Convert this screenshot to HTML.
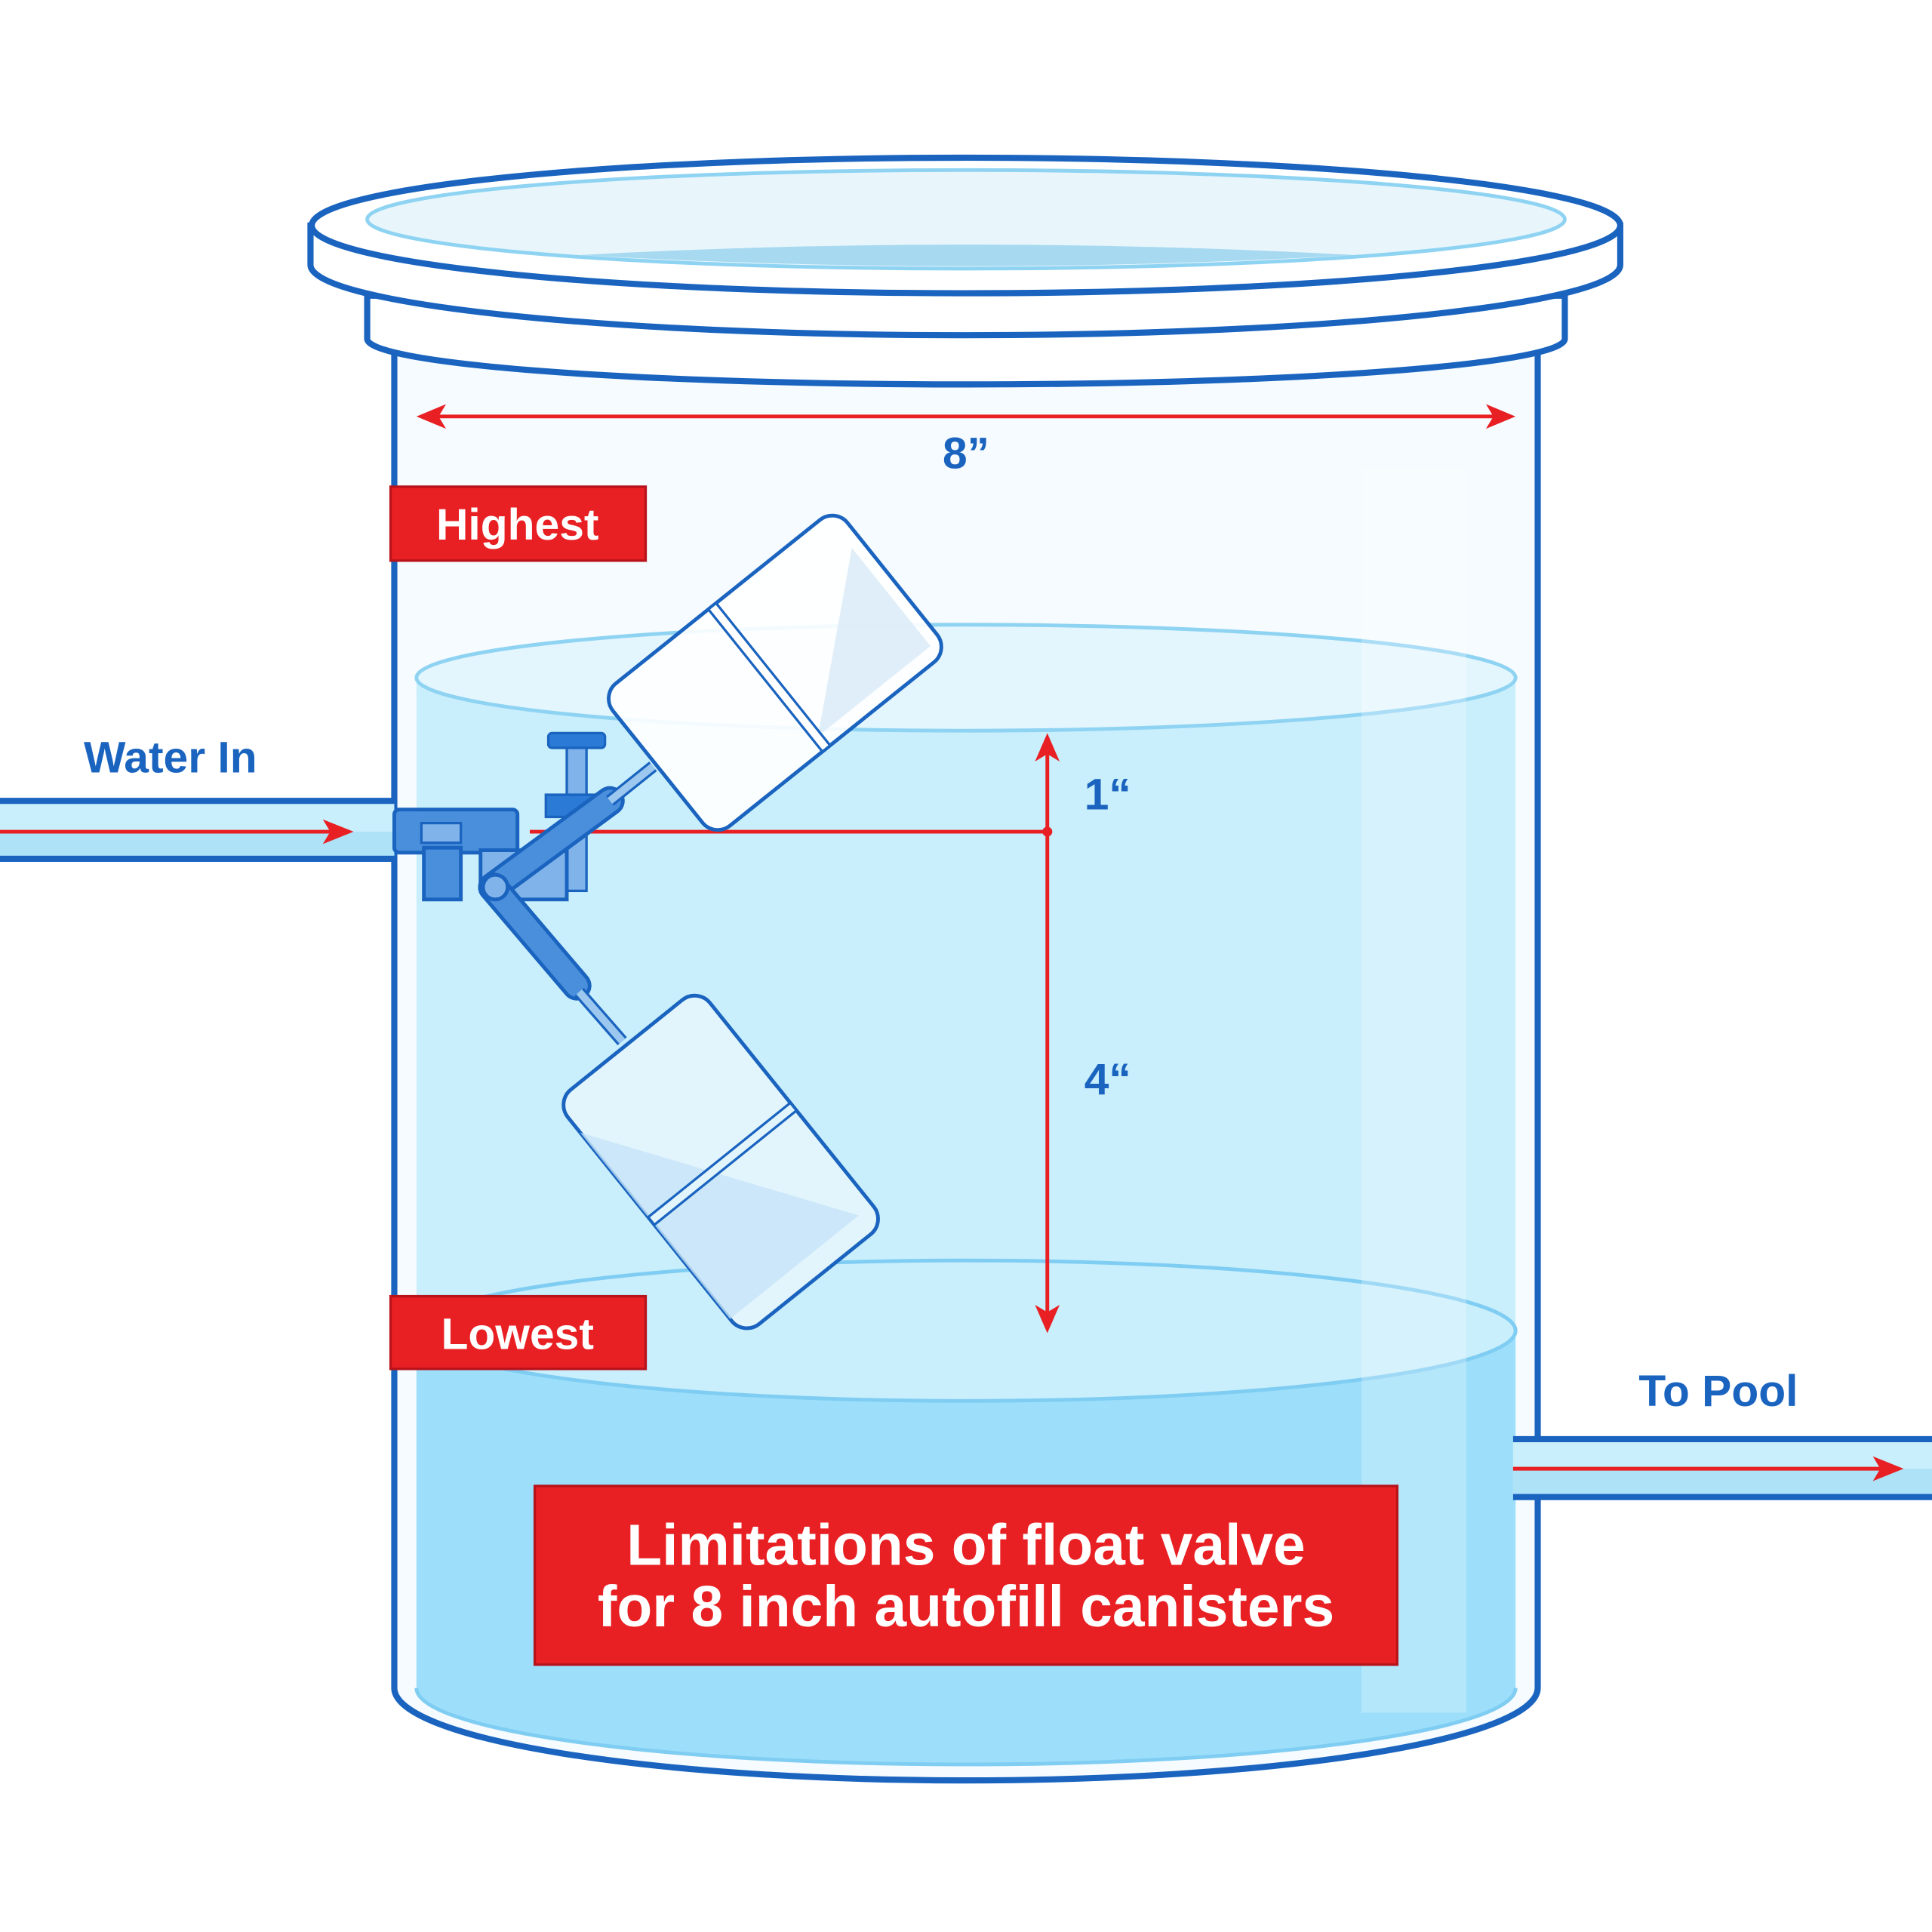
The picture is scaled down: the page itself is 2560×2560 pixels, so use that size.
<!DOCTYPE html>
<html><head><meta charset="utf-8"><style>
html,body{margin:0;padding:0;background:#fff}
svg{display:block}
text{font-family:"Liberation Sans",sans-serif;font-weight:bold}
</style></head><body>
<svg width="2560" height="2560" viewBox="0 0 1568 1568" xmlns="http://www.w3.org/2000/svg">
<rect width="1568" height="1568" fill="#fff"/>
<!-- body -->
<path d="M320,285 L320,1370 A464,75 0 0 0 1248,1370 L1248,285 Z" fill="#f5fbfe" stroke="#1a64bf" stroke-width="5"/>
<path d="M338,550 L338,1370 A446,62 0 0 0 1230,1370 L1230,550 Z" fill="#c9eefc"/>
<path d="M338,1080 L338,1370 A446,62 0 0 0 1230,1370 L1230,1080 Z" fill="#9ddffa"/>
<ellipse cx="784" cy="1080" rx="446" ry="57" fill="#c9eefc" stroke="#7fcdf2" stroke-width="3"/>
<path d="M338,1370 A446,62 0 0 0 1230,1370" fill="none" stroke="#7fcdf2" stroke-width="3"/>
<ellipse cx="784" cy="550" rx="446" ry="43" fill="#e4f6fd" stroke="#8fd3f3" stroke-width="3"/>
<rect x="1105" y="380" width="85" height="1010" fill="#ffffff" opacity="0.25"/>
<!-- collar -->
<path d="M298,240 L298,275 A486,37 0 0 0 1270,275 L1270,240 Z" fill="#fff" stroke="#1a64bf" stroke-width="5"/>
<!-- lid -->
<path d="M252,183 L252,215 A531,57 0 0 0 1315,215 L1315,183 Z" fill="#fff" stroke="#1a64bf" stroke-width="5"/>
<ellipse cx="784" cy="183" rx="531" ry="55" fill="#fff" stroke="#1a64bf" stroke-width="5"/>
<ellipse cx="784" cy="178" rx="486" ry="40" fill="#e8f6fc" stroke="#8fd3f3" stroke-width="3"/>
<path d="M470,207 Q784,190 1100,207 Q784,225 470,207 Z" fill="#a7d9f0"/>
<!-- 8 inch dimension -->
<line x1="345" y1="338" x2="1222" y2="338" stroke="#e82023" stroke-width="3"/>
<path d="M338,338 L362,328 L356,338 L362,348 Z" fill="#e82023"/>
<path d="M1230,338 L1206,328 L1212,338 L1206,348 Z" fill="#e82023"/>
<text x="784" y="380" font-size="36" fill="#1a64bf" text-anchor="middle">8”</text>
<!-- pipes -->
<rect x="0" y="650" width="320" height="47" fill="#c9eefc"/>
<rect x="0" y="675" width="320" height="22" fill="#ade2f7"/>
<line x1="0" y1="650" x2="320" y2="650" stroke="#1a64bf" stroke-width="5"/>
<line x1="0" y1="697" x2="320" y2="697" stroke="#1a64bf" stroke-width="5"/>
<line x1="0" y1="675" x2="280" y2="675" stroke="#e82023" stroke-width="3"/>
<path d="M287,675 L262,665 L268,675 L262,685 Z" fill="#e82023"/>
<text x="68" y="627" font-size="36" fill="#1a64bf">Water In</text>
<rect x="1228" y="1168" width="340" height="47" fill="#c9eefc"/>
<rect x="1228" y="1192" width="340" height="23" fill="#ade2f7"/>
<line x1="1228" y1="1168" x2="1568" y2="1168" stroke="#1a64bf" stroke-width="5"/>
<line x1="1228" y1="1215" x2="1568" y2="1215" stroke="#1a64bf" stroke-width="5"/>
<line x1="1228" y1="1192" x2="1538" y2="1192" stroke="#e82023" stroke-width="3"/>
<path d="M1545,1192 L1520,1182 L1526,1192 L1520,1202 Z" fill="#e82023"/>
<text x="1330" y="1141" font-size="36" fill="#1a64bf">To Pool</text>
<!-- vertical dimension -->
<line x1="430" y1="675" x2="850" y2="675" stroke="#e82023" stroke-width="3"/>
<line x1="850" y1="600" x2="850" y2="1075" stroke="#e82023" stroke-width="3"/>
<path d="M850,595 L840,618 L850,612 L860,618 Z" fill="#e82023"/>
<path d="M850,1082 L840,1059 L850,1065 L860,1059 Z" fill="#e82023"/>
<circle cx="850" cy="675" r="4" fill="#e82023"/>
<text x="880" y="657" font-size="36" fill="#1a64bf">1“</text>
<text x="880" y="888" font-size="36" fill="#1a64bf">4“</text>
<!-- valve -->
<rect x="320" y="657" width="100" height="35" rx="4" fill="#4a8fdc" stroke="#1a64bf" stroke-width="3"/>
<rect x="342" y="668" width="32" height="16" fill="#7fb3ea" stroke="#1a64bf" stroke-width="2"/>
<rect x="344" y="688" width="30" height="42" fill="#4a8fdc" stroke="#1a64bf" stroke-width="3"/>
<rect x="445" y="595" width="46" height="12" rx="3" fill="#2a7ad6" stroke="#1a64bf" stroke-width="2"/>
<rect x="460" y="607" width="16" height="40" fill="#7fb3ea" stroke="#1a64bf" stroke-width="2"/>
<rect x="443" y="645" width="40" height="18" fill="#2a7ad6" stroke="#1a64bf" stroke-width="2"/>
<rect x="458" y="663" width="18" height="60" fill="#7fb3ea" stroke="#1a64bf" stroke-width="2"/>
<path d="M390,690 L390,720 Q392,730 405,730 L460,730 L460,690 Z" fill="#7fb3ea" stroke="#1a64bf" stroke-width="3"/>
<line x1="400" y1="720" x2="495" y2="650" stroke="#1a64bf" stroke-width="24" stroke-linecap="round"/>
<line x1="400" y1="720" x2="495" y2="650" stroke="#4a8fdc" stroke-width="18" stroke-linecap="round"/>
<line x1="400" y1="720" x2="468" y2="800" stroke="#1a64bf" stroke-width="24" stroke-linecap="round"/>
<line x1="400" y1="720" x2="468" y2="800" stroke="#4a8fdc" stroke-width="18" stroke-linecap="round"/>
<line x1="495" y1="650" x2="530" y2="622" stroke="#1a64bf" stroke-width="10"/>
<line x1="495" y1="650" x2="530" y2="622" stroke="#9cc8f0" stroke-width="6"/>
<line x1="470" y1="805" x2="505" y2="845" stroke="#1a64bf" stroke-width="10"/>
<line x1="470" y1="805" x2="505" y2="845" stroke="#9cc8f0" stroke-width="6"/>
<circle cx="402" cy="720" r="10" fill="#7fb3ea" stroke="#1a64bf" stroke-width="3"/>
<!-- upper float -->
<g transform="translate(629,546) rotate(-38.7)">
<rect x="-122" y="-74" width="244" height="148" rx="16" fill="#fff" fill-opacity="0.9" stroke="#1a64bf" stroke-width="3"/>
<path d="M-5,62 L112,62 L112,-40 Z" fill="#d8eaf8" opacity="0.8"/>
<rect x="-10" y="-74" width="8" height="148" fill="#fff" stroke="#1a64bf" stroke-width="2"/>
</g>
<!-- lower float -->
<g transform="translate(585,943) rotate(-38.8)">
<rect x="-74" y="-122" width="148" height="244" rx="16" fill="#e2f5fd" stroke="#1a64bf" stroke-width="3"/>
<path d="M-74,-90 L-74,104 L60,104 Z" fill="#c5e4f7" opacity="0.8"/>
<rect x="-74" y="-2" width="148" height="8" fill="#e2f5fd" stroke="#1a64bf" stroke-width="2"/>
</g>
<!-- labels -->
<rect x="317" y="395" width="207" height="60" fill="#e82023" stroke="#b8121a" stroke-width="2"/>
<text x="420" y="438" font-size="36" fill="#fff" text-anchor="middle">Highest</text>
<rect x="317" y="1052" width="207" height="59" fill="#e82023" stroke="#b8121a" stroke-width="2"/>
<text x="420" y="1095" font-size="36" fill="#fff" text-anchor="middle">Lowest</text>
<rect x="434" y="1206" width="700" height="145" fill="#e82023" stroke="#b8121a" stroke-width="2"/>
<text x="784" y="1270" font-size="47" fill="#fff" text-anchor="middle">Limitations of float valve</text>
<text x="784" y="1320" font-size="47" fill="#fff" text-anchor="middle">for 8 inch autofill canisters</text>
</svg>
</body></html>
